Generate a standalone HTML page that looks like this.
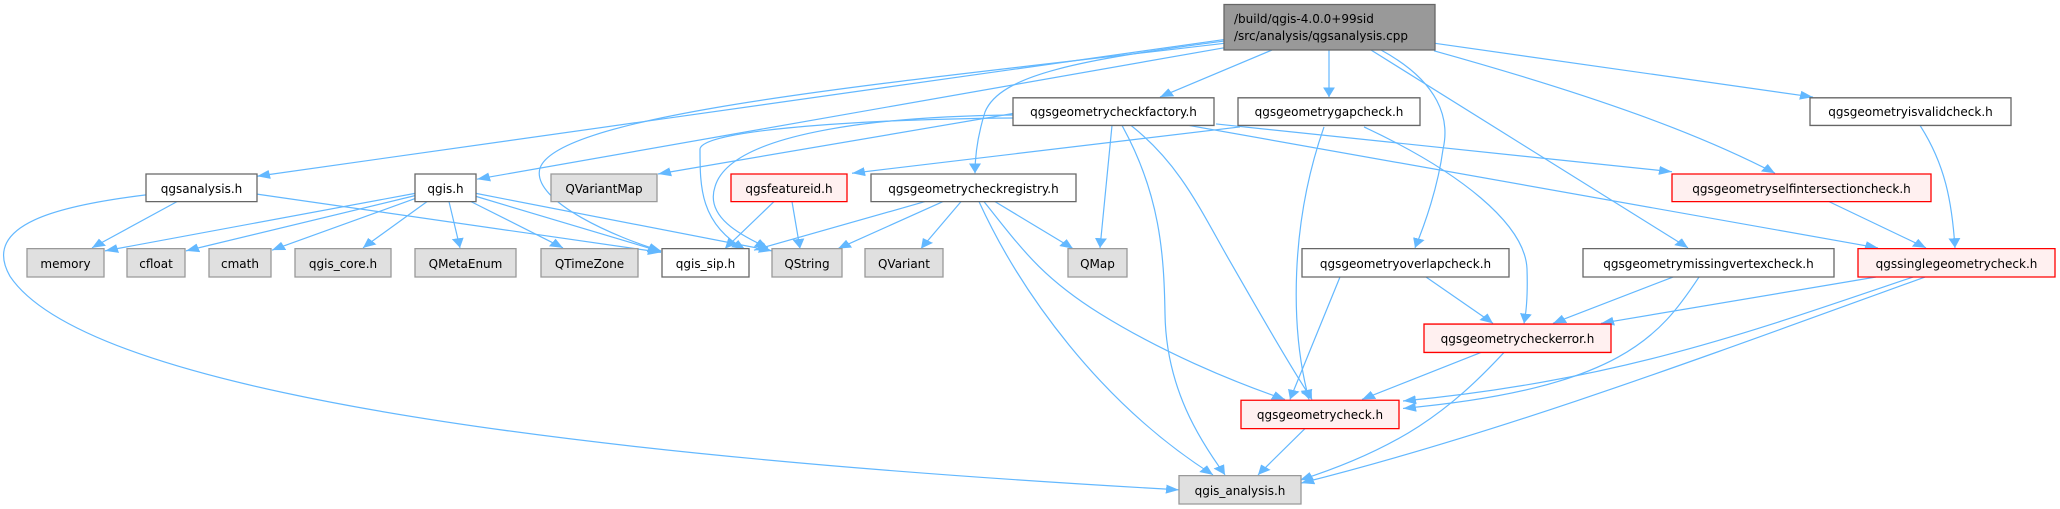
<!DOCTYPE html>
<html><head><meta charset="utf-8"><style>
html,body{margin:0;padding:0;background:#fff;}
svg{display:block;}
text{font-family:"DejaVu Sans","Liberation Sans",sans-serif;font-size:12px;fill:#000;}
</style></head><body>
<svg width="2060" height="509" viewBox="0 0 2060 509" xmlns="http://www.w3.org/2000/svg">
<defs>
<marker id="a" markerUnits="userSpaceOnUse" markerWidth="14" markerHeight="16" refX="13" refY="8" orient="auto">
<path d="M0,2 L13,8 L0,14 Z" fill="#63b8ff"/>
</marker>
</defs>
<g transform="scale(1,0.7467)">
<g fill="none" stroke="#63b8ff" stroke-width="1.2" marker-end="url(#a)" vector-effect="non-scaling-stroke">
<path vector-effect="non-scaling-stroke" d="M1224,53 L257,236"/>
<path vector-effect="non-scaling-stroke" d="M1224,64 L477,240"/>
<path vector-effect="non-scaling-stroke" d="M1224,58 C900,110 560,150 540,225 C530,270 620,320 661,336"/>
<path vector-effect="non-scaling-stroke" d="M1224,55 C1080,80 1000,100 985,150 C978,180 975,205 975,232"/>
<path vector-effect="non-scaling-stroke" d="M1272,67 L1160,130"/>
<path vector-effect="non-scaling-stroke" d="M1329,67 L1329,130"/>
<path vector-effect="non-scaling-stroke" d="M1381,67 C1440,110 1450,160 1443,200 C1438,250 1425,300 1415,332"/>
<path vector-effect="non-scaling-stroke" d="M1371,67 L1688,332"/>
<path vector-effect="non-scaling-stroke" d="M1434,68 C1600,130 1700,180 1775,232"/>
<path vector-effect="non-scaling-stroke" d="M1435,58 L1813,130"/>
<path vector-effect="non-scaling-stroke" d="M1013,152 L658,233"/>
<path vector-effect="non-scaling-stroke" d="M1013,154 C870,156 730,180 715,250 C705,290 740,315 768,332"/>
<path vector-effect="non-scaling-stroke" d="M1013,158 C850,160 700,175 700,200 C700,250 700,300 745,334"/>
<path vector-effect="non-scaling-stroke" d="M1216,166 L1672,230"/>
<path vector-effect="non-scaling-stroke" d="M1189,168 L1878,332"/>
<path vector-effect="non-scaling-stroke" d="M1112,168 L1100,332"/>
<path vector-effect="non-scaling-stroke" d="M1122,168 C1160,260 1164,340 1165,420 C1166,520 1200,590 1225,636"/>
<path vector-effect="non-scaling-stroke" d="M1131,168 C1180,220 1200,280 1230,350 C1260,420 1290,490 1312,535"/>
<path vector-effect="non-scaling-stroke" d="M1240,170 L852,232"/>
<path vector-effect="non-scaling-stroke" d="M1324,170 C1290,300 1290,440 1309,535"/>
<path vector-effect="non-scaling-stroke" d="M1364,170 C1460,230 1525,300 1527,360 C1528,400 1526,420 1524,433"/>
<path vector-effect="non-scaling-stroke" d="M925,270 L754,335"/>
<path vector-effect="non-scaling-stroke" d="M943,270 L838,333"/>
<path vector-effect="non-scaling-stroke" d="M961,270 L921,333"/>
<path vector-effect="non-scaling-stroke" d="M995,270 L1073,333"/>
<path vector-effect="non-scaling-stroke" d="M979,270 C1020,390 1100,540 1213,636"/>
<path vector-effect="non-scaling-stroke" d="M984,270 C1020,330 1040,370 1100,420 C1160,470 1230,510 1285,535"/>
<path vector-effect="non-scaling-stroke" d="M774,270 L725,333"/>
<path vector-effect="non-scaling-stroke" d="M792,270 L800,333"/>
<path vector-effect="non-scaling-stroke" d="M415,259 L105,336"/>
<path vector-effect="non-scaling-stroke" d="M415,262 L186,336"/>
<path vector-effect="non-scaling-stroke" d="M415,266 L272,335"/>
<path vector-effect="non-scaling-stroke" d="M427,270 L363,332"/>
<path vector-effect="non-scaling-stroke" d="M449,270 L460,332"/>
<path vector-effect="non-scaling-stroke" d="M471,270 L563,332"/>
<path vector-effect="non-scaling-stroke" d="M476,263 L661,337"/>
<path vector-effect="non-scaling-stroke" d="M476,259 L772,336"/>
<path vector-effect="non-scaling-stroke" d="M177,270 L92,332"/>
<path vector-effect="non-scaling-stroke" d="M257,260 L661,338"/>
<path vector-effect="non-scaling-stroke" d="M146,261 C60,275 -20,300 10,370 C60,470 300,590 1179,656"/>
<path vector-effect="non-scaling-stroke" d="M1340,371 L1290,535"/>
<path vector-effect="non-scaling-stroke" d="M1426,371 L1493,433"/>
<path vector-effect="non-scaling-stroke" d="M1673,371 L1553,433"/>
<path vector-effect="non-scaling-stroke" d="M1699,371 C1660,450 1620,520 1403,547"/>
<path vector-effect="non-scaling-stroke" d="M1829,270 L1926,332"/>
<path vector-effect="non-scaling-stroke" d="M1920,168 C1945,220 1952,270 1955,332"/>
<path vector-effect="non-scaling-stroke" d="M1876,371 L1601,433"/>
<path vector-effect="non-scaling-stroke" d="M1913,371 C1760,440 1620,510 1403,537"/>
<path vector-effect="non-scaling-stroke" d="M1925,371 C1700,480 1500,580 1301,647"/>
<path vector-effect="non-scaling-stroke" d="M1481,472 L1362,535"/>
<path vector-effect="non-scaling-stroke" d="M1504,472 C1450,550 1400,600 1300,643"/>
<path vector-effect="non-scaling-stroke" d="M1305,574 L1258,636"/>
</g>
<g stroke-width="1.3">
<rect vector-effect="non-scaling-stroke" x="1224" y="6" width="211" height="61" fill="#999999" stroke="#666"/>
<rect vector-effect="non-scaling-stroke" x="146" y="233" width="111" height="37" fill="#fff" stroke="#666"/>
<rect vector-effect="non-scaling-stroke" x="415" y="233" width="61" height="37" fill="#fff" stroke="#666"/>
<rect vector-effect="non-scaling-stroke" x="551" y="233" width="106" height="37" fill="#e0e0e0" stroke="#999"/>
<rect vector-effect="non-scaling-stroke" x="27" y="333" width="77" height="38" fill="#e0e0e0" stroke="#999"/>
<rect vector-effect="non-scaling-stroke" x="127" y="333" width="58" height="38" fill="#e0e0e0" stroke="#999"/>
<rect vector-effect="non-scaling-stroke" x="209" y="333" width="62" height="38" fill="#e0e0e0" stroke="#999"/>
<rect vector-effect="non-scaling-stroke" x="295" y="333" width="96" height="38" fill="#e0e0e0" stroke="#999"/>
<rect vector-effect="non-scaling-stroke" x="415" y="333" width="101" height="38" fill="#e0e0e0" stroke="#999"/>
<rect vector-effect="non-scaling-stroke" x="541" y="333" width="97" height="38" fill="#e0e0e0" stroke="#999"/>
<rect vector-effect="non-scaling-stroke" x="662" y="333" width="87" height="38" fill="#fff" stroke="#666"/>
<rect vector-effect="non-scaling-stroke" x="772" y="333" width="70" height="38" fill="#e0e0e0" stroke="#999"/>
<rect vector-effect="non-scaling-stroke" x="865" y="333" width="78" height="38" fill="#e0e0e0" stroke="#999"/>
<rect vector-effect="non-scaling-stroke" x="1068" y="333" width="59" height="38" fill="#e0e0e0" stroke="#999"/>
<rect vector-effect="non-scaling-stroke" x="1013" y="131" width="201" height="37" fill="#fff" stroke="#666"/>
<rect vector-effect="non-scaling-stroke" x="1238" y="131" width="182" height="37" fill="#fff" stroke="#666"/>
<rect vector-effect="non-scaling-stroke" x="731" y="233" width="116" height="37" fill="#fff0f0" stroke="#ff0000"/>
<rect vector-effect="non-scaling-stroke" x="871" y="233" width="205" height="37" fill="#fff" stroke="#666"/>
<rect vector-effect="non-scaling-stroke" x="1302" y="333" width="207" height="38" fill="#fff" stroke="#666"/>
<rect vector-effect="non-scaling-stroke" x="1241" y="536" width="158" height="38" fill="#fff0f0" stroke="#ff0000"/>
<rect vector-effect="non-scaling-stroke" x="1179" y="637" width="122" height="38" fill="#e0e0e0" stroke="#999"/>
<rect vector-effect="non-scaling-stroke" x="1810" y="131" width="201" height="37" fill="#fff" stroke="#666"/>
<rect vector-effect="non-scaling-stroke" x="1672" y="233" width="259" height="37" fill="#fff0f0" stroke="#ff0000"/>
<rect vector-effect="non-scaling-stroke" x="1583" y="333" width="251" height="38" fill="#fff" stroke="#666"/>
<rect vector-effect="non-scaling-stroke" x="1858" y="333" width="197" height="38" fill="#fff0f0" stroke="#ff0000"/>
<rect vector-effect="non-scaling-stroke" x="1424" y="434" width="187" height="38" fill="#fff0f0" stroke="#ff0000"/>
</g>
</g>
<g text-anchor="middle">
<text x="201.5" y="193">qgsanalysis.h</text>
<text x="445.5" y="193">qgis.h</text>
<text x="604" y="193">QVariantMap</text>
<text x="65.5" y="268">memory</text>
<text x="156" y="268">cfloat</text>
<text x="240" y="268">cmath</text>
<text x="343" y="268">qgis_core.h</text>
<text x="465.5" y="268">QMetaEnum</text>
<text x="589.5" y="268">QTimeZone</text>
<text x="705.5" y="268">qgis_sip.h</text>
<text x="807" y="268">QString</text>
<text x="904" y="268">QVariant</text>
<text x="1097.5" y="268">QMap</text>
<text x="1113.5" y="116">qgsgeometrycheckfactory.h</text>
<text x="1329" y="116">qgsgeometrygapcheck.h</text>
<text x="789" y="193">qgsfeatureid.h</text>
<text x="973.5" y="193">qgsgeometrycheckregistry.h</text>
<text x="1405.5" y="268">qgsgeometryoverlapcheck.h</text>
<text x="1320" y="419">qgsgeometrycheck.h</text>
<text x="1240" y="495">qgis_analysis.h</text>
<text x="1910.5" y="116">qgsgeometryisvalidcheck.h</text>
<text x="1801.5" y="193">qgsgeometryselfintersectioncheck.h</text>
<text x="1708.5" y="268">qgsgeometrymissingvertexcheck.h</text>
<text x="1956.5" y="268">qgssinglegeometrycheck.h</text>
<text x="1517.5" y="343">qgsgeometrycheckerror.h</text>
</g>
<text x="1234" y="23">/build/qgis-4.0.0+99sid</text>
<text x="1234" y="40">/src/analysis/qgsanalysis.cpp</text>
</svg>
</body></html>
